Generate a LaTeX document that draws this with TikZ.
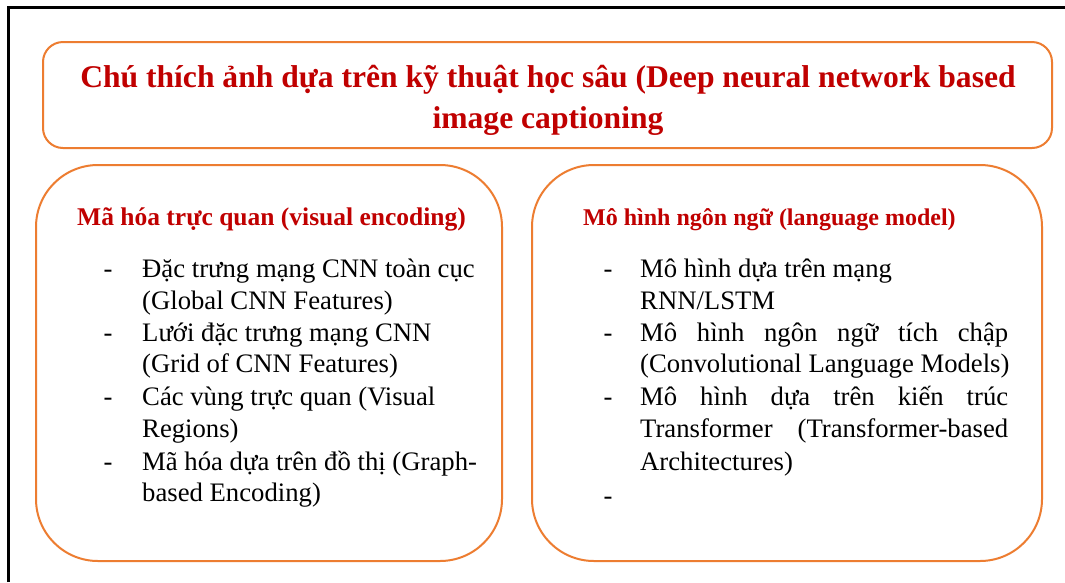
\documentclass[tikz,border=0pt]{standalone}
\usepackage{fontspec}
\setmainfont{Liberation Serif}
\definecolor{borange}{RGB}{237,125,49}
\definecolor{dred}{RGB}{192,0,0}
\begin{document}
\begin{tikzpicture}[x=1pt,y=-1pt,
  box/.style={draw=borange, line width=2pt, fill=white, inner sep=0pt, outer sep=0pt},
  ttl/.style={text=dred, font=\bfseries\fontsize{31.6}{38}\selectfont, inner sep=0pt, anchor=base},
  hd/.style={text=dred, font=\bfseries\fontsize{24}{29}\selectfont, inner sep=0pt, anchor=base west},
  item/.style={font=\fontsize{26.7}{32}\selectfont, inner sep=0pt, anchor=base west},
  dashb/.style={font=\fontsize{26.7}{32}\selectfont, inner sep=0pt, anchor=base}]
\useasboundingbox (0,0) rectangle (1065,582);
\fill[white] (0,0) rectangle (1065,582);
\draw[line width=3pt] (8.5,582) -- (8.5,7.5) -- (1065,7.5);
% boxes
\node[box, rounded corners=20pt, minimum width=1009pt, minimum height=106pt] (titlebox) at (547.5,95) {};
\node[box, rounded corners=62pt, minimum width=466pt, minimum height=396pt] (leftbox) at (269,363) {};
\node[box, rounded corners=62pt, minimum width=510pt, minimum height=396pt] (rightbox) at (787,363) {};
% title
\node[ttl] (t1) at (548,87) {Chú thích ảnh dựa trên kỹ thuật học sâu (Deep neural network based};
\node[ttl] (t2) at (548,128) {image captioning};
% headings
\node[hd, font=\bfseries\fontsize{25.5}{30}\selectfont] (h1) at (77,225) {Mã hóa trực quan (visual encoding)};
\node[hd] (h2) at (583,225) {Mô hình ngôn ngữ (language model)};
% left items
\node[dashb] (ld1) at (108,277) {-};
\node[item] (l1) at (142,277) {Đặc trưng mạng CNN toàn cục};
\node[item] (l2) at (142,309) {(Global CNN Features)};
\node[dashb] (ld2) at (108,341) {-};
\node[item] (l3) at (142,341) {Lưới đặc trưng mạng CNN};
\node[item] (l4) at (142,372) {(Grid of CNN Features)};
\node[dashb] (ld3) at (108,405) {-};
\node[item] (l5) at (142,405) {Các vùng trực quan (Visual};
\node[item] (l6) at (142,437) {Regions)};
\node[dashb] (ld4) at (108,470) {-};
\node[item] (l7) at (142,470) {Mã hóa dựa trên đồ thị (Graph-};
\node[item] (l8) at (142,501) {based Encoding)};
% right items
\node[dashb] (rd1) at (608,277) {-};
\node[item] (r1) at (640,277) {Mô hình dựa trên mạng};
\node[item] (r2) at (640,309) {RNN/LSTM};
\node[dashb] (rd2) at (608,341) {-};
\node[item] (r3) at (640,341) {\makebox[368pt][s]{Mô hình ngôn ngữ tích chập}};
\node[item] (r4) at (640,372) {(Convolutional Language Models)};
\node[dashb] (rd3) at (608,405) {-};
\node[item] (r5) at (640,405) {\makebox[368pt][s]{Mô hình dựa trên kiến trúc}};
\node[item] (r6) at (640,437) {\makebox[368pt][s]{Transformer (Transformer-based}};
\node[item] (r7) at (640,470) {Architectures)};
\node[dashb] (rd4) at (608,504) {-};
\end{tikzpicture}
\end{document}
